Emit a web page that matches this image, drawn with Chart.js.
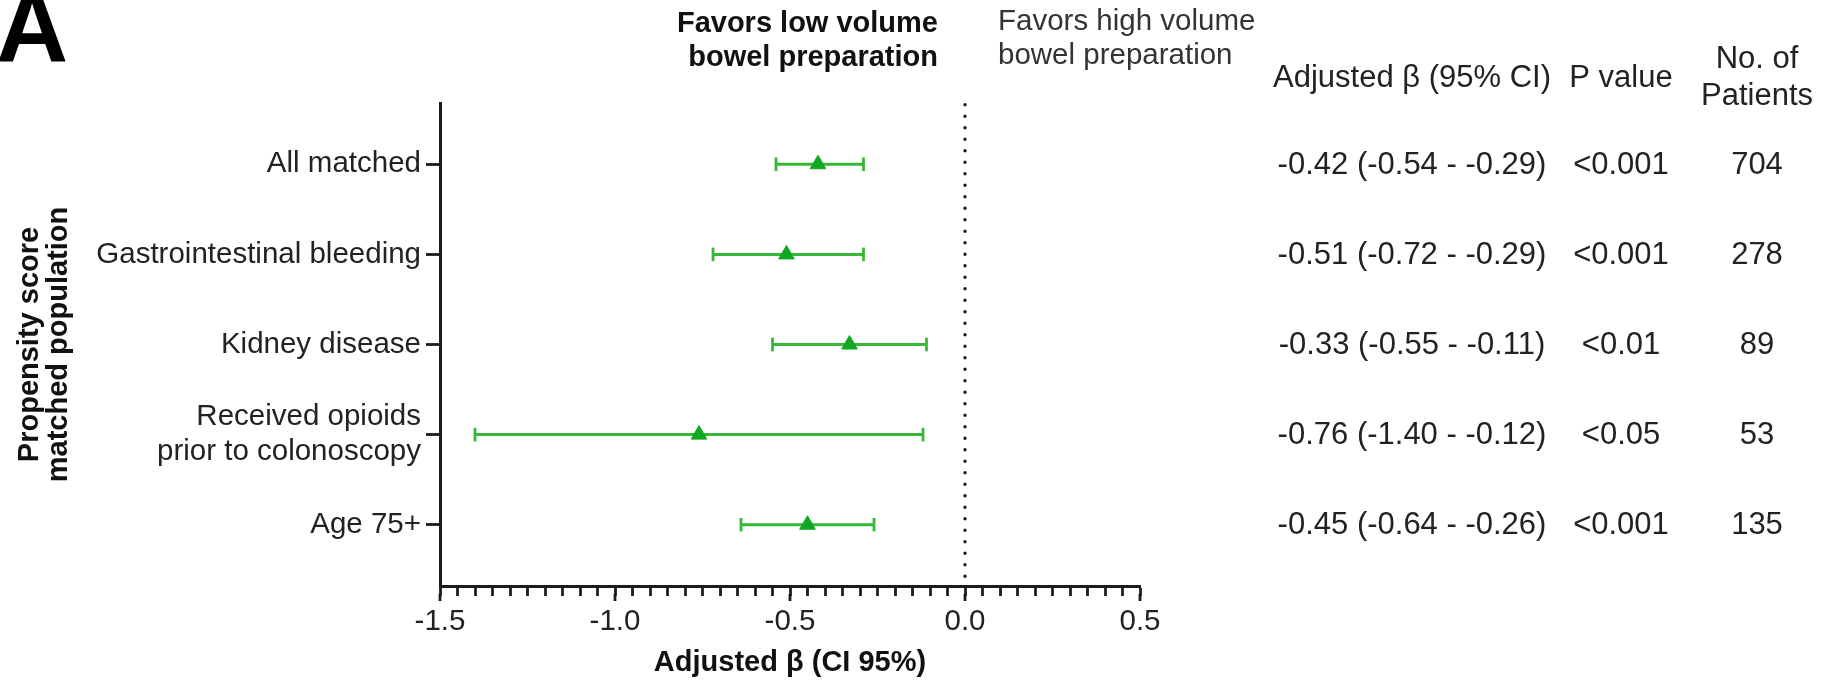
<!DOCTYPE html>
<html>
<head>
<meta charset="utf-8">
<script src="https://cdn.jsdelivr.net/npm/chart.js@4.4.1/dist/chart.umd.min.js"></script>
<style>
  html, body { margin: 0; padding: 0; background: #ffffff; }
  #wrap { width: 1824px; height: 681px; position: relative; }
</style>
</head>
<body>
<div id="wrap"><canvas id="c" width="1824" height="681"></canvas></div>
<script>
// ---------- data ----------
const categories = [
  'All matched',
  'Gastrointestinal bleeding',
  'Kidney disease',
  ['Received opioids', 'prior to colonoscopy'],
  'Age 75+'
];
const betas  = [-0.42, -0.51, -0.33, -0.76, -0.45];
const ciLow  = [-0.54, -0.72, -0.55, -1.40, -0.64];
const ciHigh = [-0.29, -0.29, -0.11, -0.12, -0.26];
const ciText = [
  '-0.42 (-0.54 - -0.29)',
  '-0.51 (-0.72 - -0.29)',
  '-0.33 (-0.55 - -0.11)',
  '-0.76 (-1.40 - -0.12)',
  '-0.45 (-0.64 - -0.26)'
];
const pValues  = ['<0.001', '<0.001', '<0.01', '<0.05', '<0.001'];
const patients = ['704', '278', '89', '53', '135'];
const xTicks      = [-1.5, -1.0, -0.5, 0.0, 0.5];
const xTickLabels = ['-1.5', '-1.0', '-0.5', '0.0', '0.5'];
const xMinorStep  = 0.05;
const tableHeaders = { beta: 'Adjusted β (95% CI)', p: 'P value', n: ['No. of', 'Patients'] };
const favorsLow  = ['Favors low volume', 'bowel preparation'];
const favorsHigh = ['Favors high volume', 'bowel preparation'];
const panelLetter = 'A';
const xTitle = 'Adjusted β (CI 95%)';
const yTitle = ['Propensity score', 'matched population'];

// ---------- styling ----------
const FONT = '"Liberation Sans", Arial, Helvetica, sans-serif';
const GREEN_BAR = '#38b838';
const GREEN_PT  = '#10a820';
const INK = '#1c1c1c';
const Y_MIN = -0.68, Y_MAX = 4.68;

const ciDatasets = betas.map((b, i) => ({
  type: 'line',
  data: [{ x: ciLow[i], y: i }, { x: ciHigh[i], y: i }],
  borderColor: GREEN_BAR,
  borderWidth: 3,
  pointStyle: 'line',
  rotation: 90,
  pointRadius: 6.8,
  pointBorderWidth: 2.8,
  pointBorderColor: GREEN_BAR,
  pointBackgroundColor: GREEN_BAR,
  showLine: true,
  fill: false,
  order: 2
}));

const pointDataset = {
  type: 'scatter',
  data: betas.map((b, i) => ({ x: b, y: i })),
  pointStyle: 'triangle',
  pointRadius: 9,
  backgroundColor: GREEN_PT,
  borderColor: GREEN_PT,
  borderWidth: 1,
  order: 1
};

const refLine = {
  type: 'line',
  data: [{ x: 0, y: Y_MIN + 0.02 }, { x: 0, y: Y_MAX - 0.03 }],
  borderColor: INK,
  borderWidth: 3.4,
  borderDash: [0, 11.5],
  borderCapStyle: 'round',
  pointRadius: 0,
  fill: false,
  order: 3
};

const annot = {
  id: 'annot',
  afterDraw(chart) {
    const { ctx } = chart;
    const xs = chart.scales.x, ys = chart.scales.y;
    ctx.save();
    // major tick extensions
    ctx.strokeStyle = INK;
    ctx.lineWidth = 2.8;
    xTicks.forEach(v => {
      const px = Math.round(xs.getPixelForValue(v));
      ctx.beginPath();
      ctx.moveTo(px, xs.top + 8);
      ctx.lineTo(px, xs.top + 15);
      ctx.stroke();
    });
    // panel letter
    ctx.fillStyle = '#000';
    ctx.font = 'bold 100px ' + FONT;
    ctx.textAlign = 'left';
    ctx.textBaseline = 'alphabetic';
    ctx.fillText(panelLetter, -4, 62);
    // favors headers
    const x0 = xs.getPixelForValue(0);
    ctx.textBaseline = 'middle';
    ctx.fillStyle = '#111';
    ctx.font = 'bold 29px ' + FONT;
    ctx.textAlign = 'right';
    ctx.fillText(favorsLow[0], x0 - 27, 24);
    ctx.fillText(favorsLow[1], x0 - 27, 58);
    ctx.fillStyle = '#333';
    ctx.font = '29.5px ' + FONT;
    ctx.textAlign = 'left';
    ctx.fillText(favorsHigh[0], x0 + 33, 22);
    ctx.fillText(favorsHigh[1], x0 + 33, 56);
    // table headers
    ctx.fillStyle = '#222';
    ctx.font = '31px ' + FONT;
    ctx.textAlign = 'center';
    const colBeta = 1412, colP = 1621, colN = 1757;
    ctx.fillText(tableHeaders.beta, colBeta, 78);
    ctx.fillText(tableHeaders.p, colP, 78);
    ctx.fillText(tableHeaders.n[0], colN, 59);
    ctx.fillText(tableHeaders.n[1], colN, 96);
    // rows
    betas.forEach((b, i) => {
      const py = ys.getPixelForValue(i) + 1;
      ctx.fillText(ciText[i], colBeta, py);
      ctx.fillText(pValues[i], colP, py);
      ctx.fillText(patients[i], colN, py);
    });
    ctx.restore();
  }
};

new Chart(document.getElementById('c'), {
  type: 'scatter',
  data: { datasets: [refLine, ...ciDatasets, pointDataset] },
  options: {
    responsive: false,
    animation: false,
    events: [],
    layout: { padding: { top: 103, right: 684, left: 0, bottom: 0 } },
    plugins: { legend: { display: false }, tooltip: { enabled: false } },
    scales: {
      x: {
        type: 'linear',
        position: 'bottom',
        min: -1.5,
        max: 0.5,
        afterBuildTicks(scale) {
          const n = Math.round((scale.max - scale.min) / xMinorStep);
          const t = [];
          for (let k = 0; k <= n; k++) t.push({ value: Math.round((scale.min + k * xMinorStep) * 100) / 100 });
          scale.ticks = t;
        },
        afterFit(scale) { scale.height = 95; },
        ticks: {
          autoSkip: false,
          maxRotation: 0,
          padding: 8,
          color: '#222',
          font: { family: FONT, size: 29.5 },
          callback(v) {
            const idx = xTicks.findIndex(t => Math.abs(t - v) < 1e-6);
            return idx >= 0 ? xTickLabels[idx] : '';
          }
        },
        grid: { drawOnChartArea: false, drawTicks: true, tickLength: 10, tickWidth: 2.8, tickColor: INK },
        border: { display: true, width: 3, color: INK },
        title: {
          display: true,
          text: xTitle,
          color: '#111',
          font: { family: FONT, size: 29, weight: 'bold' },
          padding: { top: 0, bottom: 1 }
        }
      },
      y: {
        type: 'linear',
        min: Y_MIN,
        max: Y_MAX,
        reverse: true,
        afterBuildTicks(scale) { scale.ticks = categories.map((c, i) => ({ value: i })); },
        afterFit(scale) { scale.width = 440; },
        ticks: {
          autoSkip: false,
          padding: 5,
          color: '#222',
          font: { family: FONT, size: 29.5, lineHeight: 1.2 },
          callback(v) { return categories[v]; }
        },
        grid: { drawOnChartArea: false, drawTicks: true, tickLength: 14, tickWidth: 2.8, tickColor: INK },
        border: { display: true, width: 3, color: INK },
        title: {
          display: true,
          text: yTitle,
          color: '#111',
          font: { family: FONT, size: 29, weight: 'bold', lineHeight: 1.0 },
          padding: { top: 15, bottom: 0 }
        }
      }
    }
  },
  plugins: [annot]
});
</script>
</body>
</html>
